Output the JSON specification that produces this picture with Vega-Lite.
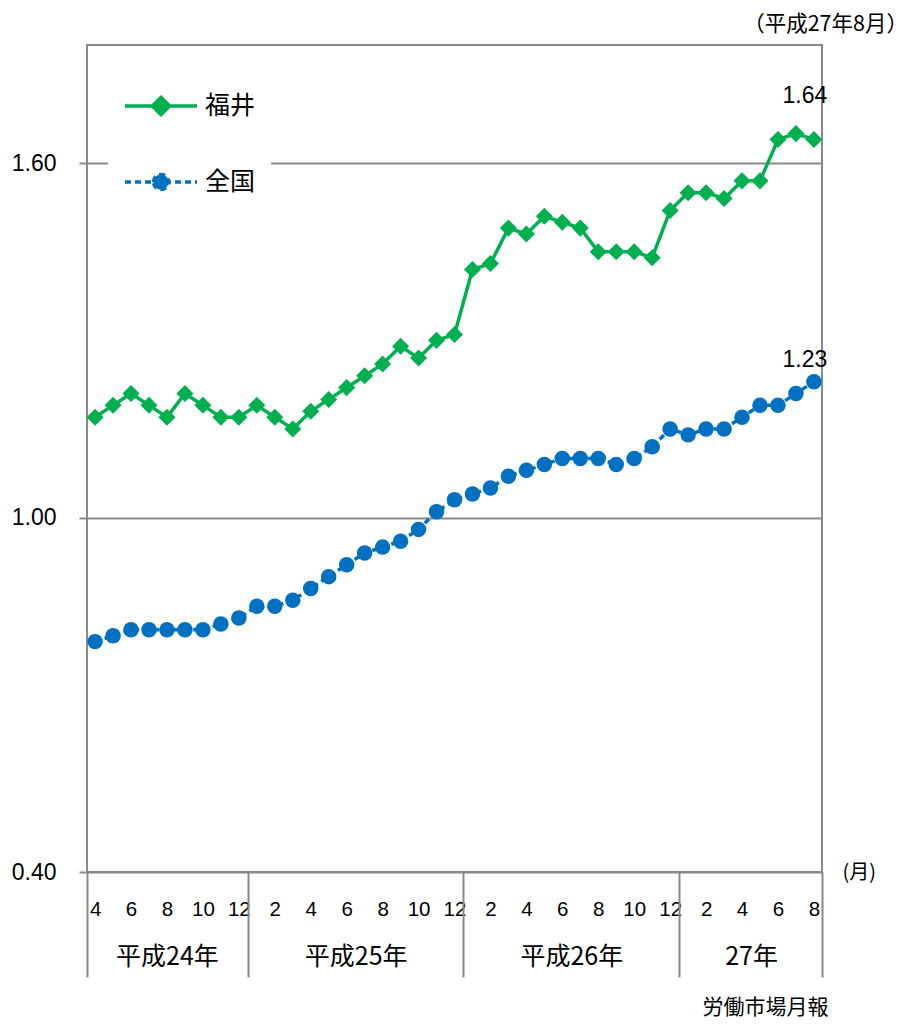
{
  "$schema": "https://vega.github.io/schema/vega-lite/v6.json",
  "autosize": "none",
  "width": 735,
  "height": 827,
  "padding": {"left": 87, "top": 45, "right": 89, "bottom": 152},
  "background": "white",
  "title": {"text": "（平成27年8月）", "anchor": "end", "frame": "group", "dx": 86, "dy": 24, "offset": 12, "baseline": "bottom", "fontSize": 21.5, "font": "Noto Sans CJK JP", "fontWeight": "normal", "color": "black"},
  "data": {"values": [
    {"i":0,"s":"福井","v":1.17},{"i":1,"s":"福井","v":1.19},{"i":2,"s":"福井","v":1.21},{"i":3,"s":"福井","v":1.19},{"i":4,"s":"福井","v":1.17},{"i":5,"s":"福井","v":1.21},{"i":6,"s":"福井","v":1.19},{"i":7,"s":"福井","v":1.17},{"i":8,"s":"福井","v":1.17},
    {"i":9,"s":"福井","v":1.19},{"i":10,"s":"福井","v":1.17},{"i":11,"s":"福井","v":1.15},{"i":12,"s":"福井","v":1.18},{"i":13,"s":"福井","v":1.20},{"i":14,"s":"福井","v":1.22},{"i":15,"s":"福井","v":1.24},{"i":16,"s":"福井","v":1.26},{"i":17,"s":"福井","v":1.29},{"i":18,"s":"福井","v":1.27},{"i":19,"s":"福井","v":1.30},{"i":20,"s":"福井","v":1.31},
    {"i":21,"s":"福井","v":1.42},{"i":22,"s":"福井","v":1.43},{"i":23,"s":"福井","v":1.49},{"i":24,"s":"福井","v":1.48},{"i":25,"s":"福井","v":1.51},{"i":26,"s":"福井","v":1.50},{"i":27,"s":"福井","v":1.49},{"i":28,"s":"福井","v":1.45},{"i":29,"s":"福井","v":1.45},{"i":30,"s":"福井","v":1.45},{"i":31,"s":"福井","v":1.44},{"i":32,"s":"福井","v":1.52},
    {"i":33,"s":"福井","v":1.55},{"i":34,"s":"福井","v":1.55},{"i":35,"s":"福井","v":1.54},{"i":36,"s":"福井","v":1.57},{"i":37,"s":"福井","v":1.57},{"i":38,"s":"福井","v":1.64},{"i":39,"s":"福井","v":1.65},{"i":40,"s":"福井","v":1.64},
    {"i":0,"s":"全国","v":0.79},{"i":1,"s":"全国","v":0.80},{"i":2,"s":"全国","v":0.81},{"i":3,"s":"全国","v":0.81},{"i":4,"s":"全国","v":0.81},{"i":5,"s":"全国","v":0.81},{"i":6,"s":"全国","v":0.81},{"i":7,"s":"全国","v":0.82},{"i":8,"s":"全国","v":0.83},
    {"i":9,"s":"全国","v":0.85},{"i":10,"s":"全国","v":0.85},{"i":11,"s":"全国","v":0.86},{"i":12,"s":"全国","v":0.88},{"i":13,"s":"全国","v":0.90},{"i":14,"s":"全国","v":0.92},{"i":15,"s":"全国","v":0.94},{"i":16,"s":"全国","v":0.95},{"i":17,"s":"全国","v":0.96},{"i":18,"s":"全国","v":0.98},{"i":19,"s":"全国","v":1.01},{"i":20,"s":"全国","v":1.03},
    {"i":21,"s":"全国","v":1.04},{"i":22,"s":"全国","v":1.05},{"i":23,"s":"全国","v":1.07},{"i":24,"s":"全国","v":1.08},{"i":25,"s":"全国","v":1.09},{"i":26,"s":"全国","v":1.10},{"i":27,"s":"全国","v":1.10},{"i":28,"s":"全国","v":1.10},{"i":29,"s":"全国","v":1.09},{"i":30,"s":"全国","v":1.10},{"i":31,"s":"全国","v":1.12},{"i":32,"s":"全国","v":1.15},
    {"i":33,"s":"全国","v":1.14},{"i":34,"s":"全国","v":1.15},{"i":35,"s":"全国","v":1.15},{"i":36,"s":"全国","v":1.17},{"i":37,"s":"全国","v":1.19},{"i":38,"s":"全国","v":1.19},{"i":39,"s":"全国","v":1.21},{"i":40,"s":"全国","v":1.23}
  ]},
  "layer": [
    {
      "mark": {"type": "line", "strokeWidth": 3.5},
      "encoding": {
        "x": {"field": "i", "type": "quantitative",
              "scale": {"domain": [-0.45, 40.45], "nice": false, "zero": false},
              "axis": {"orient": "bottom", "title": null, "values": [0,2,4,6,8,10,12,14,16,18,20,22,24,26,28,30,32,34,36,38,40],
                       "labelExpr": "((datum.value + 3) % 12) + 1", "ticks": false, "domain": false, "grid": false,
                       "labelFlush": false, "labelOverlap": false, "labelBound": false, "labelPadding": 27,
                       "labelFont": "Liberation Sans", "labelFontSize": 20.5, "labelColor": "black"}},
        "y": {"field": "v", "type": "quantitative",
              "scale": {"domain": [0.4, 1.8], "nice": false, "zero": false},
              "axis": {"orient": "left", "title": null, "values": [0.4, 1.0, 1.6], "format": ".2f", "grid": true,
                       "domain": false, "tickSize": 8, "labelPadding": 23, "labelFont": "Liberation Sans",
                       "labelFontSize": 23, "labelColor": "black"}},
        "color": {"field": "s", "type": "nominal",
                  "scale": {"domain": ["福井", "全国"], "range": ["#00B050", "#0070C0"]},
                  "legend": {"title": null, "orient": "none", "legendX": 21, "legendY": 8, "fillColor": "white",
                             "padding": 15, "rowPadding": 22, "labelFont": "Noto Sans CJK JP", "labelFontSize": 25,
                             "labelColor": "black", "labelOffset": 6, "symbolSize": 5184, "symbolStrokeWidth": 3.5,
                             "encode": {"symbols": {"update": {
                               "shape": {"signal": "datum.value === '福井' ? 'M-1,0H1M0,-0.24L0.24,0L0,0.24L-0.24,0Z' : 'M-1,0H1M-0.21,0A0.21,0.21,0,1,1,0.21,0A0.21,0.21,0,1,1,-0.21,0Z'"},
                               "strokeDash": {"signal": "datum.value === '福井' ? [1,0] : [8,5]"},
                               "fill": {"signal": "scale('color', datum.value)"},
                               "stroke": {"signal": "scale('color', datum.value)"},
                               "strokeWidth": {"value": 3.5},
                               "size": {"value": 5184},
                               "opacity": {"value": 1}
                             }}}}},
        "strokeDash": {"field": "s", "type": "nominal", "scale": {"domain": ["福井", "全国"], "range": [[1, 0], [6, 4]]}, "legend": null}
      }
    },
    {
      "transform": [{"filter": "datum.s === '福井'"}],
      "mark": {"type": "point", "filled": true, "opacity": 1, "size": 240, "shape": "M0,-1.1L1.1,0L0,1.1L-1.1,0Z"},
      "encoding": {
        "x": {"field": "i", "type": "quantitative",
              "axis": {"orient": "bottom", "title": "労働市場月報", "values": [4, 14.5, 26.5, 36.5],
                       "labelExpr": "datum.value < 8 ? '平成24年' : datum.value < 20 ? '平成25年' : datum.value < 32 ? '平成26年' : '27年'",
                       "ticks": false, "domain": false, "grid": false, "labelFlush": false, "labelOverlap": false, "labelBound": false,
                       "labelPadding": 72, "labelFont": "Noto Sans CJK JP", "labelFontSize": 25, "labelColor": "black",
                       "titleAnchor": "end", "titlePadding": 27, "titleFont": "Noto Sans CJK JP", "titleFontSize": 21,
                       "titleFontWeight": "normal", "titleColor": "black", "titleX": 741}},
        "y": {"field": "v", "type": "quantitative",
              "axis": {"orient": "right", "title": null, "values": [0.4], "labelExpr": "'(月)'", "ticks": false, "tickSize": 0,
                       "domain": false, "grid": false, "labelPadding": 20, "labelFont": "Noto Sans CJK JP",
                       "labelFontSize": 20, "labelColor": "black"}},
        "color": {"field": "s", "type": "nominal"}
      }
    },
    {
      "transform": [{"filter": "datum.s === '全国'"}],
      "mark": {"type": "point", "filled": true, "opacity": 1, "size": 240, "shape": "circle"},
      "encoding": {
        "x": {"field": "i", "type": "quantitative", "axis": null},
        "y": {"field": "v", "type": "quantitative", "axis": null},
        "color": {"field": "s", "type": "nominal"}
      }
    },
    {
      "transform": [{"filter": "datum.s === '福井' && datum.i === 40"}],
      "mark": {"type": "text", "dx": -9, "dy": -44, "baseline": "middle", "align": "center", "font": "Liberation Sans", "fontSize": 23, "color": "black"},
      "encoding": {
        "x": {"field": "i", "type": "quantitative",
              "axis": {"orient": "bottom", "title": null, "values": [-0.45, 8.5, 20.5, 32.5, 40.45], "labels": false,
                       "ticks": true, "tickSize": 105, "domain": false, "grid": false}},
        "y": {"field": "v", "type": "quantitative", "axis": null},
        "text": {"field": "v", "type": "quantitative", "format": ".2f"}
      }
    },
    {
      "transform": [{"filter": "datum.s === '全国' && datum.i === 40"}],
      "mark": {"type": "text", "dx": -9, "dy": -22, "baseline": "middle", "align": "center", "font": "Liberation Sans", "fontSize": 23, "color": "black"},
      "encoding": {
        "x": {"field": "i", "type": "quantitative", "axis": null},
        "y": {"field": "v", "type": "quantitative", "axis": null},
        "text": {"field": "v", "type": "quantitative", "format": ".2f"}
      }
    }
  ],
  "resolve": {"axis": {"x": "independent", "y": "independent"}},
  "config": {
    "view": {"stroke": "#898989", "strokeWidth": 2},
    "axis": {"gridColor": "#898989", "gridWidth": 2, "gridOpacity": 1, "tickColor": "#898989", "tickWidth": 2, "tickOpacity": 1}
  }
}
